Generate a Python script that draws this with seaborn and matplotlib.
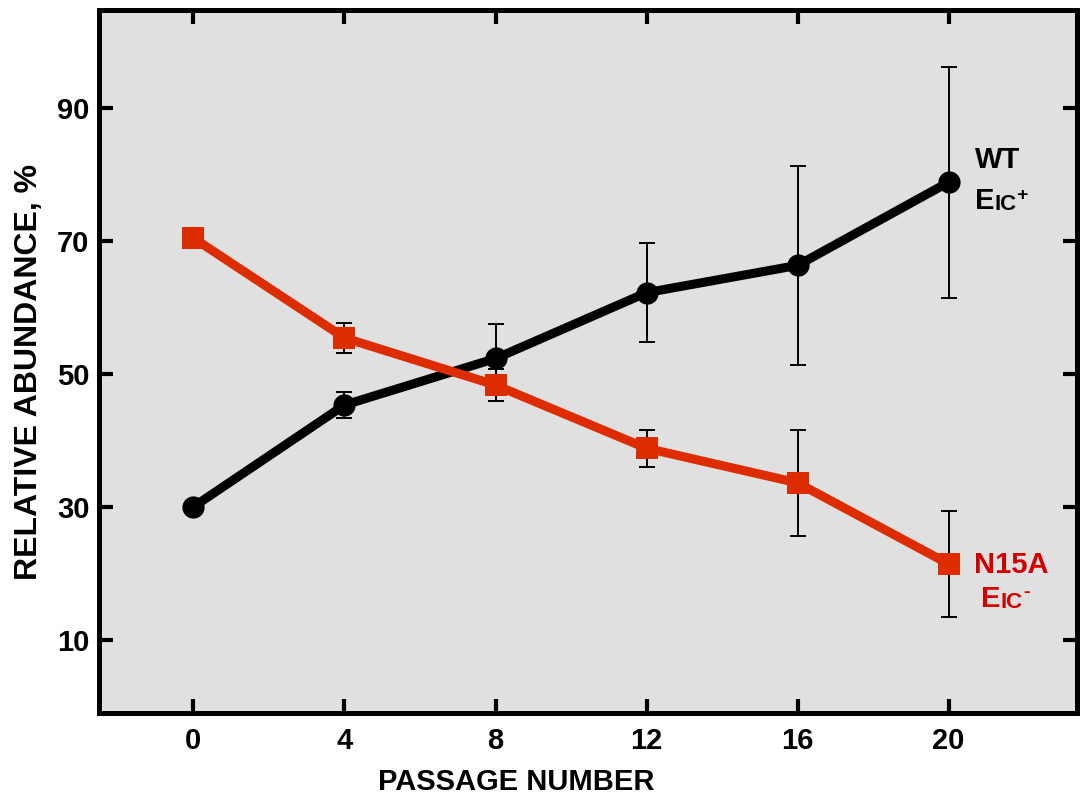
import matplotlib
matplotlib.use('Agg')
import matplotlib.pyplot as plt
import numpy as np
import pandas as pd
import seaborn as sns

passage = [0, 4, 8, 12, 16, 20]
wt_mean = [30.0, 45.3, 52.3, 62.2, 66.3, 78.8]
wt_err = [0.0, 1.9, 5.2, 7.4, 15.0, 17.4]
n15a_mean = [70.4, 55.4, 48.3, 38.8, 33.6, 21.4]
n15a_err = [0.0, 2.2, 2.4, 2.8, 8.0, 7.9]

x_ticks = [0, 4, 8, 12, 16, 20]
y_ticks = [10, 30, 50, 70, 90]

wt_color = 'black'
n15a_color = '#dd2c00'
n15a_text = '#d40000'

sns.set_style('ticks')
plt.rcParams['font.family'] = ['Liberation Sans', 'DejaVu Sans']
plt.rcParams['font.weight'] = 'bold'
plt.rcParams['text.color'] = 'black'
plt.rcParams['axes.labelcolor'] = 'black'
plt.rcParams['xtick.color'] = 'black'
plt.rcParams['ytick.color'] = 'black'
plt.rcParams['axes.edgecolor'] = 'black'

df = pd.DataFrame({
    'passage': passage * 2,
    'abundance': wt_mean + n15a_mean,
    'strain': ['WT'] * len(passage) + ['N15A'] * len(passage),
})

fig = plt.figure(figsize=(10.86, 8), dpi=100)
ax = fig.add_axes([0.0912, 0.1088, 0.9005, 0.8787])
ax.set_facecolor('#e0e0e0')

# error bars first so markers sit on top
ax.errorbar(passage[1:], wt_mean[1:], yerr=wt_err[1:], fmt='none',
            ecolor='black', elinewidth=1.4, capsize=5.5, capthick=1.4, zorder=1)
ax.errorbar(passage[1:], n15a_mean[1:], yerr=n15a_err[1:], fmt='none',
            ecolor='black', elinewidth=1.4, capsize=5.5, capthick=1.4, zorder=1)

sns.lineplot(data=df, x='passage', y='abundance', hue='strain', style='strain',
             palette={'WT': wt_color, 'N15A': n15a_color},
             markers={'WT': 'o', 'N15A': 's'}, dashes=False,
             linewidth=6.5, markersize=16, markeredgewidth=0,
             legend=False, ax=ax, zorder=2)

ax.set_xlim(-2.5, 23.4)
ax.set_ylim(-1, 104.7)
ax.set_xticks(x_ticks)
ax.set_yticks(y_ticks)
ax.tick_params(direction='in', length=10, width=3, top=True, right=True,
               labeltop=False, labelright=False, labelsize=21)
ax.tick_params(axis='y', pad=7)
ax.tick_params(axis='x', pad=10)
for s in ax.spines.values():
    s.set_linewidth(3.6)
    s.set_visible(True)

ax.set_xlabel('PASSAGE NUMBER', fontsize=21, fontweight='bold')
ax.set_ylabel('RELATIVE ABUNDANCE, %', fontsize=23, fontweight='bold')
ax.xaxis.set_label_coords(0.427, -0.079)
ax.yaxis.set_label_coords(-0.056, 0.485)

# series labels, with small caps "IC"
ax.text(20.69, 81.0, 'WT', fontsize=21, fontweight='bold', color=wt_color)
e1 = ax.text(20.69, 74.8, 'E', fontsize=21, fontweight='bold', color=wt_color)
i1 = ax.annotate('IC', xy=(1, 0), xycoords=e1, fontsize=16, fontweight='bold',
                 color=wt_color, va='bottom')
ax.annotate('+', xy=(1, 0.5), xycoords=i1, fontsize=14, fontweight='bold',
            color=wt_color, va='bottom')

ax.text(20.66, 20.1, 'N15A', fontsize=21, fontweight='bold', color=n15a_text)
e2 = ax.text(20.87, 15.0, 'E', fontsize=21, fontweight='bold', color=n15a_text)
i2 = ax.annotate('IC', xy=(1, 0), xycoords=e2, fontsize=16, fontweight='bold',
                 color=n15a_text, va='bottom')
ax.annotate('-', xy=(1, 0.55), xycoords=i2, fontsize=14, fontweight='bold',
            color=n15a_text, va='bottom')

fig.savefig('out.png', dpi=100)
